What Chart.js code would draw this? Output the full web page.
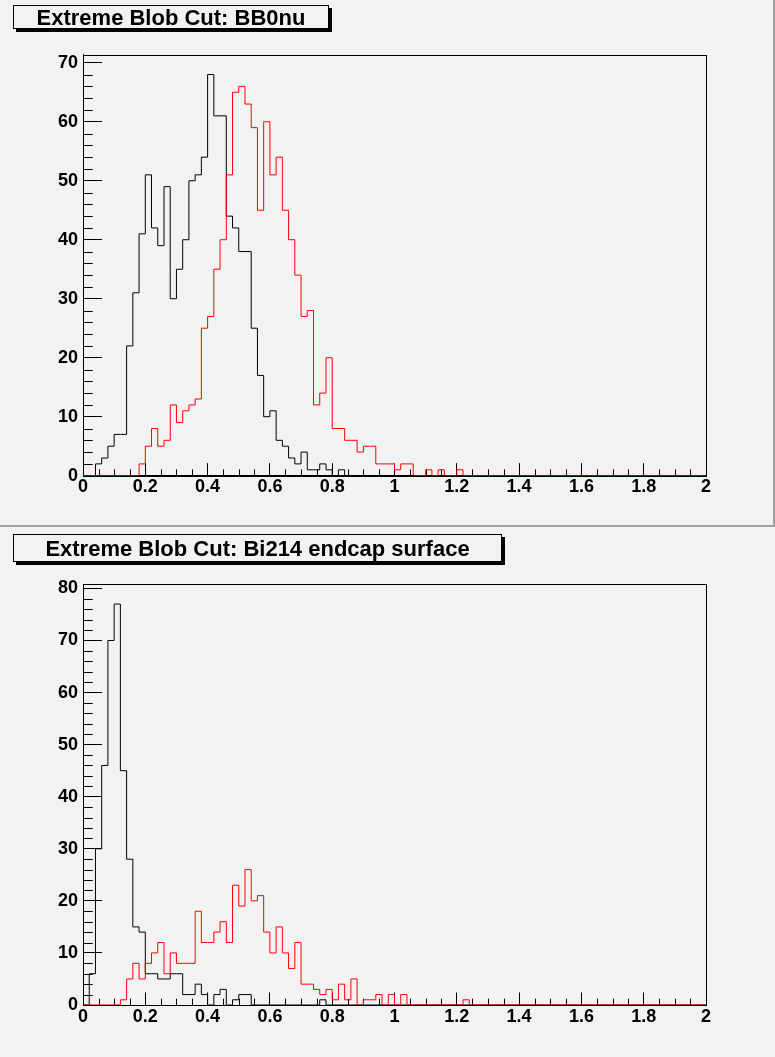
<!DOCTYPE html>
<html>
<head>
<meta charset="utf-8">
<script src="https://cdn.jsdelivr.net/npm/chart.js@4.4.1/dist/chart.umd.min.js"></script>
<style>
body { margin: 0; background: #fff; }
#page { position: relative; width: 775px; height: 1057px; background: #f2f2f2; overflow: hidden; }
canvas { position: absolute; left: 0; }
.title {
  position: absolute; left: 13px; box-sizing: border-box;
  border: 1px solid #000; box-shadow: 3px 3px 0 #000; background: #f2f2f2;
  font: bold 22px "Liberation Sans", Arial, Helvetica, sans-serif;
  text-align: center; white-space: nowrap; color: #000;
}
.sep { position: absolute; background: #a0a0a0; }
</style>
</head>
<body>
<div id="page">
  <canvas id="topChart" width="775" height="526" style="top:0"></canvas>
  <canvas id="bottomChart" width="775" height="529" style="top:528px"></canvas>
  <div class="sep" style="left:0;top:525px;width:775px;height:2px"></div>
  <div class="sep" style="left:773px;top:0;width:2px;height:527px"></div>
  <div class="title" style="top:5px;width:316px;height:24px;line-height:24px;">Extreme Blob Cut: BB0nu</div>
  <div class="title" style="top:534px;width:489px;height:28px;line-height:27px;">Extreme Blob Cut: Bi214 endcap surface</div>
</div>
<script>
// histogram bins: 100 bins of 0.02 between 0 and 2
const binWidth = 0.02;
const xTicks = [0, 0.2, 0.4, 0.6, 0.8, 1, 1.2, 1.4, 1.6, 1.8, 2];
const yTicksTop = [0, 10, 20, 30, 40, 50, 60, 70];
const yTicksBottom = [0, 10, 20, 30, 40, 50, 60, 70, 80];

// BB0nu
const topBlack = [
  0, 0, 2, 3, 5, 7, 7, 22, 31, 41,
  51, 42, 39, 49, 30, 35, 40, 50, 51, 54,
  68, 61, 61, 44, 42, 38, 38, 25, 17, 10,
  11, 6, 5, 3, 2, 4, 1, 1, 2, 1,
  0, 1, 0, 0, 0, 0, 0, 0, 0, 0,
  0, 0, 0, 0, 0, 0, 0, 0, 0, 0,
  0, 0, 0, 0, 0, 0, 0, 0, 0, 0,
  0, 0, 0, 0, 0, 0, 0, 0, 0, 0,
  0, 0, 0, 0, 0, 0, 0, 0, 0, 0,
  0, 0, 0, 0, 0, 0, 0, 0, 0, 0
];
const topRed = [
  0, 0, 0, 0, 0, 0, 0, 0, 0, 2,
  5, 8, 5, 6, 12, 9, 11, 12, 13, 25,
  27, 35, 40, 51, 65, 66, 63, 59, 45, 60,
  51, 54, 45, 40, 34, 27, 28, 12, 14, 20,
  8, 8, 6, 6, 4, 5, 5, 2, 2, 2,
  1, 2, 2, 0, 0, 1, 0, 1, 0, 0,
  1, 0, 0, 0, 0, 0, 0, 0, 0, 0,
  0, 0, 0, 0, 0, 0, 0, 0, 0, 0,
  0, 0, 0, 0, 0, 0, 0, 0, 0, 0,
  0, 0, 0, 0, 0, 0, 0, 0, 0, 0
];

// Bi214 endcap surface
const bottomBlack = [
  0, 6, 30, 46, 70, 77, 45, 28, 15, 14,
  6, 6, 5, 5, 6, 6, 2, 2, 4, 2,
  0, 2, 3, 0, 1, 2, 2, 0, 0, 0,
  0, 0, 0, 0, 0, 0, 0, 0, 1, 0,
  0, 0, 0, 0, 0, 0, 0, 0, 0, 0,
  0, 0, 0, 0, 0, 0, 0, 0, 0, 0,
  0, 0, 0, 0, 0, 0, 0, 0, 0, 0,
  0, 0, 0, 0, 0, 0, 0, 0, 0, 0,
  0, 0, 0, 0, 0, 0, 0, 0, 0, 0,
  0, 0, 0, 0, 0, 0, 0, 0, 0, 0
];
const bottomRed = [
  0, 0, 0, 0, 0, 0, 1, 5, 8, 5,
  8, 10, 12, 6, 10, 8, 8, 8, 18, 12,
  12, 14, 16, 12, 23, 19, 26, 20, 21, 14,
  10, 15, 10, 7, 12, 4, 4, 3, 2, 3,
  1, 4, 1, 5, 0, 1, 1, 2, 0, 2,
  0, 2, 0, 0, 0, 0, 0, 0, 0, 0,
  0, 1, 0, 0, 0, 0, 0, 0, 0, 0,
  0, 0, 0, 0, 0, 0, 0, 0, 0, 0,
  0, 0, 0, 0, 0, 0, 0, 0, 0, 0,
  0, 0, 0, 0, 0, 0, 0, 0, 0, 0
];

const labelFont = {family: '"Liberation Sans", Arial, Helvetica, sans-serif', size: 18, weight: 'bold'};

//turns bin contents into step points at the low edge of each bin
var histPoints = function(counts) {
  var pts = counts.map((c, i) => ({x: i * binWidth, y: c}));
  pts.push({x: counts.length * binWidth, y: counts[counts.length - 1]});
  return pts;
}

//ROOT style frame plus the small (minor) ticks, drawn under the histograms
const rootFrame = {
  id: 'rootFrame',
  beforeDatasetsDraw(chart) {
    const {ctx, chartArea: a, scales: {x, y}} = chart;
    ctx.save();
    ctx.strokeStyle = '#000';
    ctx.lineWidth = 1;
    ctx.beginPath();
    for (let i = 1; i < 40; i++) {
      if (i % 4 == 0) continue;
      const px = Math.round(x.getPixelForValue(i * 0.05)) + 0.5;
      ctx.moveTo(px, a.bottom);
      ctx.lineTo(px, a.bottom - 6.3);
    }
    for (let v = 2; v < y.max; v += 2) {
      if (v % 10 == 0) continue;
      const py = Math.round(y.getPixelForValue(v)) + 0.5;
      ctx.moveTo(a.left, py);
      ctx.lineTo(a.left + 9.7, py);
    }
    ctx.stroke();
    ctx.strokeRect(Math.round(a.left) + 0.5, Math.round(a.top) + 0.5,
      Math.round(a.right) - Math.round(a.left), Math.round(a.bottom) - Math.round(a.top));
    ctx.restore();
  }
};

//create one histogram pad
var createChart = function(canvas, black, red, yTicks, area) {
  const yMax = Math.max(...black, ...red) * 1.05;
  return new Chart(canvas, {
    type: 'line',
    data: {
      datasets: [
        {label: 'red', data: histPoints(red), borderColor: '#ff0000', borderWidth: 1, stepped: true, pointRadius: 0, fill: false},
        {label: 'black', data: histPoints(black), borderColor: '#000000', borderWidth: 1, stepped: true, pointRadius: 0, fill: false}
      ]
    },
    options: {
      responsive: false,
      animation: false,
      devicePixelRatio: 1,
      layout: {padding: {top: area.top, right: canvas.width - area.right, left: 0, bottom: 0}},
      plugins: {legend: {display: false}, tooltip: {enabled: false}},
      scales: {
        x: {
          type: 'linear', min: 0, max: 2,
          afterBuildTicks: s => { s.ticks = xTicks.map(v => ({value: v})); },
          afterFit: s => { s.height = canvas.height - area.bottom; },
          grid: {display: true, drawOnChartArea: false, drawTicks: true, tickLength: -12.5, color: '#000', lineWidth: 1},
          border: {display: true, color: '#000', width: 1},
          ticks: {font: labelFont, color: '#000', padding: 13.5, maxRotation: 0, autoSkip: false,
            callback: v => String(Number(v.toFixed(1)))}
        },
        y: {
          type: 'linear', min: 0, max: yMax,
          afterBuildTicks: s => { s.ticks = yTicks.map(v => ({value: v})); },
          afterFit: s => { s.width = area.left; },
          grid: {display: true, drawOnChartArea: false, drawTicks: true, tickLength: -19, color: '#000', lineWidth: 1},
          border: {display: true, color: '#000', width: 1},
          ticks: {font: labelFont, color: '#000', padding: 24, autoSkip: false, callback: v => String(v)}
        }
      }
    },
    plugins: [rootFrame]
  });
}

createChart(document.getElementById('topChart'), topBlack, topRed, yTicksTop,
  {left: 83, right: 706, top: 54.5, bottom: 475.7});
createChart(document.getElementById('bottomChart'), bottomBlack, bottomRed, yTicksBottom,
  {left: 83, right: 706, top: 56, bottom: 477});
</script>
</body>
</html>
